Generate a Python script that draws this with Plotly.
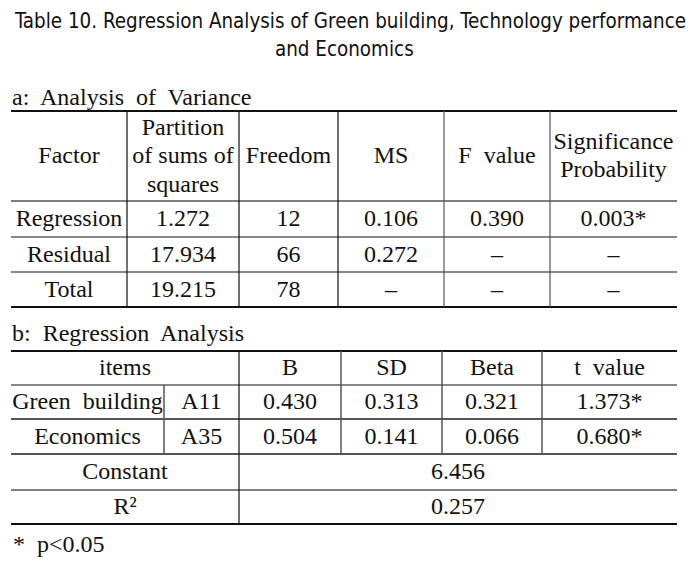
import plotly.graph_objects as go

# ---------------- data ----------------
title_lines = ["Table 10. Regression Analysis of Green building, Technology performance", "and Economics"]
heading_a = "a:  Analysis  of  Variance"
heading_b = "b:  Regression  Analysis"
footnote = "*  p<0.05"

anova_header = ["Factor", "Partition<br>of sums of<br>squares", "Freedom", "MS", "F  value", "Significance<br>Probability"]
anova_factor = ["Regression", "Residual", "Total"]
anova_ss = [1.272, 17.934, 19.215]
anova_df = [12, 66, 78]
anova_ms = [0.106, 0.272, None]
anova_f = [0.390, None, None]
anova_p = [0.003, None, None]
anova_p_sig = [True, False, False]

reg_header = ["items", "B", "SD", "Beta", "t  value"]
reg_items = ["Green  building", "Economics"]
reg_codes = ["A11", "A35"]
reg_b = [0.430, 0.504]
reg_sd = [0.313, 0.141]
reg_beta = [0.321, 0.066]
reg_t = [1.373, 0.680]
reg_t_sig = [True, True]
constant_label = "Constant"
constant_value = 6.456
r2_label = "R²"
r2_value = 0.257

# ---------------- layout geometry ----------------
W, H = 696, 562
A_COLS = [11, 127, 239, 338, 444, 550, 677]
A_ROWS = [111, 201, 237, 272, 307]
B_COLS = [11, 164, 239, 341, 442, 542, 677]
B_ROWS = [351, 385, 419, 454, 490, 524]
LINE_H = 28.5

SERIF = "Liberation Serif, Times New Roman, DejaVu Serif, serif"
SANS = "DejaVu Sans Condensed, Liberation Sans Narrow, Roboto, Liberation Sans, sans-serif"
FS = 24
BLACK = "#111111"
GREY = "#555555"


def fmt(v, sig=False):
    if v is None:
        return "–"
    s = f"{v:.3f}" if isinstance(v, float) else str(v)
    return s + ("*" if sig else "")


def mid(a, b):
    return (a + b) / 2.0


xs, ys, texts = [], [], []


def cell(x0, x1, y0, y1, t):
    lines = t.split("<br>")
    n = len(lines)
    for k, ln in enumerate(lines):
        xs.append(mid(x0, x1))
        ys.append(mid(y0, y1) + 1 + (k - (n - 1) / 2.0) * LINE_H)
        texts.append(ln)


# table a header
for i, h in enumerate(anova_header):
    cell(A_COLS[i], A_COLS[i + 1], A_ROWS[0], A_ROWS[1], h)
# table a body
for r in range(len(anova_factor)):
    row = [anova_factor[r], fmt(anova_ss[r]), fmt(anova_df[r]), fmt(anova_ms[r]),
           fmt(anova_f[r]), fmt(anova_p[r], anova_p_sig[r])]
    for i, t in enumerate(row):
        cell(A_COLS[i], A_COLS[i + 1], A_ROWS[r + 1], A_ROWS[r + 2], t)

# table b header (items spans 2 columns)
cell(B_COLS[0], B_COLS[2], B_ROWS[0], B_ROWS[1], reg_header[0])
for i, h in enumerate(reg_header[1:]):
    cell(B_COLS[i + 2], B_COLS[i + 3], B_ROWS[0], B_ROWS[1], h)
for r in range(len(reg_items)):
    row = [reg_items[r], reg_codes[r], fmt(reg_b[r]), fmt(reg_sd[r]), fmt(reg_beta[r]),
           fmt(reg_t[r], reg_t_sig[r])]
    for i, t in enumerate(row):
        cell(B_COLS[i], B_COLS[i + 1], B_ROWS[r + 1], B_ROWS[r + 2], t)
cell(B_COLS[0], B_COLS[2], B_ROWS[3], B_ROWS[4], constant_label)
cell(B_COLS[2], B_COLS[6], B_ROWS[3], B_ROWS[4], fmt(constant_value))
cell(B_COLS[0], B_COLS[2], B_ROWS[4], B_ROWS[5], r2_label)
cell(B_COLS[2], B_COLS[6], B_ROWS[4], B_ROWS[5], fmt(r2_value))

fig = go.Figure(go.Scatter(
    x=xs, y=ys, text=texts, mode="text", textposition="middle center",
    textfont=dict(family=SERIF, size=FS, color=BLACK), cliponaxis=False,
    hoverinfo="skip", showlegend=False))

shapes = []


def hline(x0, x1, y, w=1, c=BLACK):
    shapes.append(dict(type="line", xref="x", yref="y", x0=x0, x1=x1, y0=y, y1=y,
                       line=dict(color=c, width=w)))


def vline(x, y0, y1, w=1, c=BLACK):
    shapes.append(dict(type="line", xref="x", yref="y", x0=x, x1=x, y0=y0, y1=y1,
                       line=dict(color=c, width=w)))


# table a lines
hline(A_COLS[0], A_COLS[-1], A_ROWS[0], 2.2)
hline(A_COLS[0], A_COLS[-1], A_ROWS[1], 1.5, GREY)
hline(A_COLS[0], A_COLS[-1], A_ROWS[2], 1.2)
hline(A_COLS[0], A_COLS[-1], A_ROWS[3], 1.2)
hline(A_COLS[0], A_COLS[-1], A_ROWS[4], 1.8)
for i, x in enumerate(A_COLS[1:-1]):
    vline(x, A_ROWS[0], A_ROWS[-1], 1.2, BLACK if i < 3 else GREY)

# table b lines
hline(B_COLS[0], B_COLS[-1], B_ROWS[0], 2.2)
hline(B_COLS[0], B_COLS[-1], B_ROWS[1], 1.2, BLACK)
hline(B_COLS[0], B_COLS[-1], B_ROWS[2], 1.8, GREY)
hline(B_COLS[0], B_COLS[-1], B_ROWS[3], 1.8, GREY)
hline(B_COLS[0], B_COLS[-1], B_ROWS[4], 1.5, GREY)
hline(B_COLS[0], B_COLS[-1], B_ROWS[5], 1.8)
vline(B_COLS[1], B_ROWS[1], B_ROWS[3], 1.5, GREY)
vline(B_COLS[2], B_ROWS[0], B_ROWS[5], 1.2, BLACK)
for x in B_COLS[3:-1]:
    vline(x, B_ROWS[0], B_ROWS[3], 1.5, GREY)

annotations = [
    dict(x=349.5, y=21, text=title_lines[0], showarrow=False, xanchor="center", yanchor="middle",
         font=dict(family=SANS, size=20.4, color=BLACK)),
    dict(x=344, y=49, text=title_lines[1], showarrow=False, xanchor="center", yanchor="middle",
         font=dict(family=SANS, size=20.4, color=BLACK)),
    dict(x=10, y=97, text=heading_a, showarrow=False, xanchor="left", yanchor="middle",
         font=dict(family=SERIF, size=FS, color=BLACK)),
    dict(x=10, y=333, text=heading_b, showarrow=False, xanchor="left", yanchor="middle",
         font=dict(family=SERIF, size=FS, color=BLACK)),
    dict(x=11, y=544, text=footnote, showarrow=False, xanchor="left", yanchor="middle",
         font=dict(family=SERIF, size=FS, color=BLACK)),
]

fig.update_layout(
    width=W, height=H, margin=dict(l=0, r=0, t=0, b=0),
    paper_bgcolor="white", plot_bgcolor="white",
    xaxis=dict(range=[0, W], visible=False, fixedrange=True),
    yaxis=dict(range=[H, 0], visible=False, fixedrange=True),
    shapes=shapes, annotations=annotations,
)

fig.write_html("out.html", post_script="document.body.style.margin='0';",
               config={"displayModeBar": False})
